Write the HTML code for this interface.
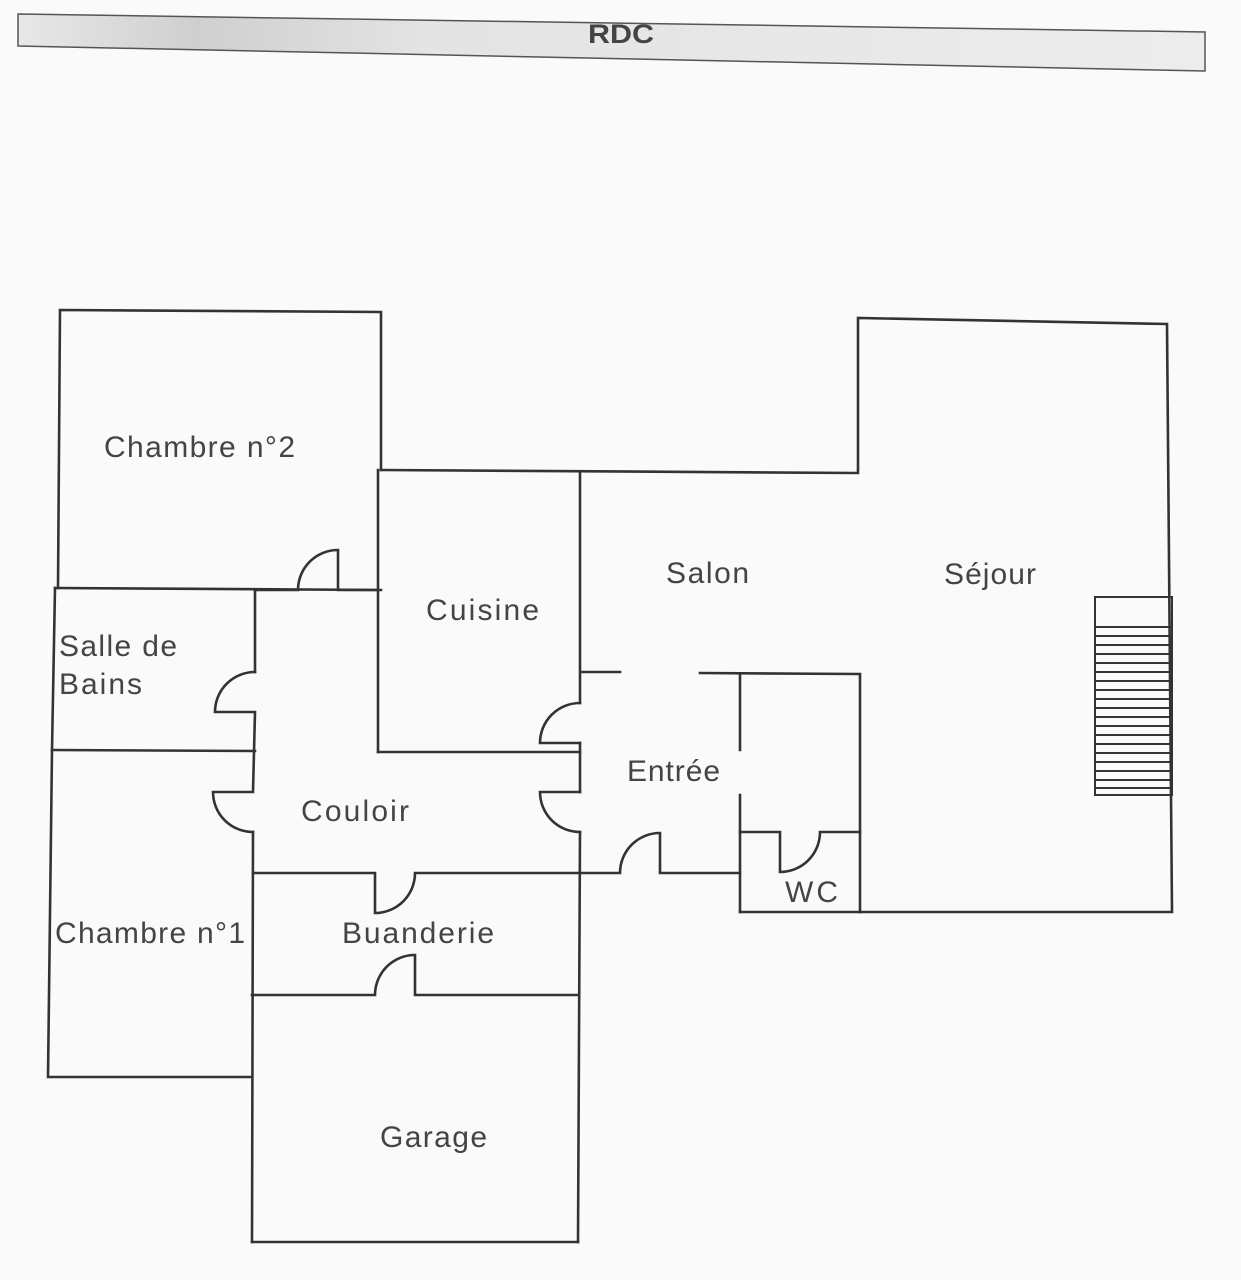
<!DOCTYPE html>
<html><head><meta charset="utf-8"><style>
html,body{margin:0;padding:0;background:#fafafa;}
svg{display:block}
text{font-family:"Liberation Sans",sans-serif;fill:#444;}
</style></head><body>
<svg width="1241" height="1280" viewBox="0 0 1241 1280" xmlns="http://www.w3.org/2000/svg">
<defs>
<linearGradient id="g" x1="0" x2="1" y1="0" y2="0">
<stop offset="0" stop-color="#e8e8e8"/><stop offset="0.15" stop-color="#cfcfcf"/><stop offset="0.35" stop-color="#e4e4e4"/><stop offset="1" stop-color="#ececec"/>
</linearGradient>
</defs>
<polygon points="18,14 1205,32 1205,71 18,46" fill="url(#g)" stroke="#555" stroke-width="1.5"/>
<text x="588" y="43" font-size="27" font-weight="bold" textLength="66" lengthAdjust="spacingAndGlyphs" fill="#333">RDC</text>
<g fill="none" stroke="#333" stroke-width="2.6" stroke-linecap="square">
<polyline points="58,588 60,310 381,312 381,470"/>
<line x1="55" y1="588" x2="381" y2="590"/>
<polyline points="55,588 52,750 48,1077 252,1077"/>
<line x1="52" y1="750" x2="255" y2="751"/>
<polyline points="381,470 858,473 858,318 1167,324 1172,912 860,912"/>
<line x1="378" y1="470" x2="378" y2="752"/>
<line x1="378" y1="752" x2="580" y2="752"/>
<line x1="580" y1="472" x2="580" y2="703"/>
<path d="M580,703 A40,40 0 0 0 540,743 L580,743"/>
<line x1="580" y1="743" x2="580" y2="792"/>
<path d="M580,792 L540,792 A40,40 0 0 0 580,832"/>
<line x1="580" y1="832" x2="578" y2="1242"/>
<path d="M255,590 L298,590 A40,40 0 0 1 338,550 L338,590 L378,590"/>
<line x1="255" y1="590" x2="255" y2="672"/>
<path d="M255,672 A40,40 0 0 0 215,712 L255,712 L253,792 L213,792 A40,40 0 0 0 253,832"/>
<line x1="253" y1="832" x2="252" y2="1242"/>
<path d="M253,873 L375,873 L375,913 A40,40 0 0 0 415,873 L580,873"/>
<path d="M252,995 L375,995 A40,40 0 0 1 415,955 L415,995 L578,995"/>
<line x1="252" y1="1242" x2="578" y2="1242"/>
<line x1="582" y1="672" x2="620" y2="672"/>
<line x1="700" y1="673" x2="858" y2="674"/>
<path d="M580,873 L620,873 A40,40 0 0 1 660,833 L660,873 L740,873"/>
<line x1="740" y1="674" x2="740" y2="750"/>
<line x1="740" y1="795" x2="740" y2="912"/>
<line x1="740" y1="912" x2="860" y2="912"/>
<line x1="860" y1="674" x2="860" y2="912"/>
<path d="M740,832 L780,832 L780,872 A40,40 0 0 0 820,832 L860,832"/>
</g>
<g stroke="#333" stroke-width="2" fill="none">
<rect x="1095" y="597" width="77" height="198"/>
<line x1="1095" y1="627" x2="1172" y2="627"/>
<line x1="1095" y1="636" x2="1172" y2="636"/>
<line x1="1095" y1="645" x2="1172" y2="645"/>
<line x1="1095" y1="654" x2="1172" y2="654"/>
<line x1="1095" y1="663" x2="1172" y2="663"/>
<line x1="1095" y1="672" x2="1172" y2="672"/>
<line x1="1095" y1="681" x2="1172" y2="681"/>
<line x1="1095" y1="690" x2="1172" y2="690"/>
<line x1="1095" y1="699" x2="1172" y2="699"/>
<line x1="1095" y1="708" x2="1172" y2="708"/>
<line x1="1095" y1="717" x2="1172" y2="717"/>
<line x1="1095" y1="726" x2="1172" y2="726"/>
<line x1="1095" y1="735" x2="1172" y2="735"/>
<line x1="1095" y1="744" x2="1172" y2="744"/>
<line x1="1095" y1="753" x2="1172" y2="753"/>
<line x1="1095" y1="762" x2="1172" y2="762"/>
<line x1="1095" y1="771" x2="1172" y2="771"/>
<line x1="1095" y1="780" x2="1172" y2="780"/>
<line x1="1095" y1="788" x2="1172" y2="788"/>
</g>
<g font-size="30" lengthAdjust="spacingAndGlyphs">
<text x="104" y="457" textLength="191">Chambre n°2</text>
<text x="59" y="656" textLength="118">Salle de</text>
<text x="59" y="694" textLength="83">Bains</text>
<text x="426" y="620" textLength="113">Cuisine</text>
<text x="666" y="583" textLength="83">Salon</text>
<text x="944" y="584" textLength="92">Séjour</text>
<text x="627" y="781" textLength="93">Entrée</text>
<text x="301" y="821" textLength="108">Couloir</text>
<text x="55" y="943" textLength="190">Chambre n°1</text>
<text x="342" y="943" textLength="152">Buanderie</text>
<text x="785" y="902" textLength="53">WC</text>
<text x="380" y="1147" textLength="107">Garage</text>
</g>
</svg>
</body></html>
